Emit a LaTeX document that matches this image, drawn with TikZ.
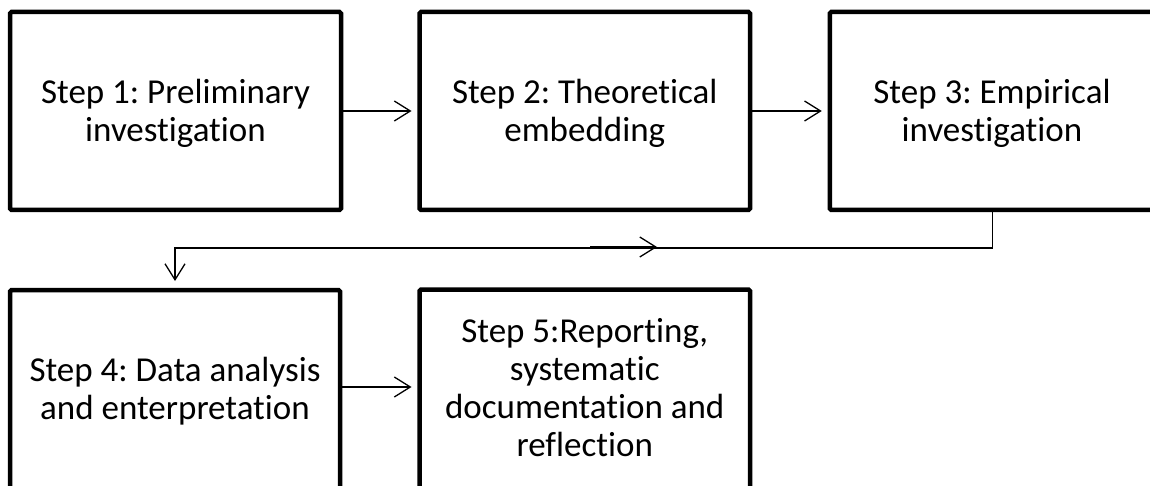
\documentclass[tikz,border=0pt]{standalone}
\usepackage{fontspec}
\setmainfont{Carlito}[Ligatures={NoCommon,NoContextual}]
\usetikzlibrary{arrows.meta}

\tikzset{
  stepbox/.style={draw=black, line width=4.5pt, rounded corners=1.5pt,
    rectangle, inner sep=0pt, outer sep=0pt},
  steptext/.style={align=center, inner sep=0pt,
    font=\fontsize{35}{38}\selectfont\frenchspacing},
  conn/.style={draw=black, line width=1.3pt,
    -{Straight Barb[length=16pt,width=20pt,line width=1.3pt]}},
}

\begin{document}
\begin{tikzpicture}[x=1pt,y=-1pt]
  \useasboundingbox (0,0) rectangle (1150,486);
  \clip (0,0) rectangle (1150,486);

  % step boxes (the lower row and the third box run past the frame)
  \node[stepbox, minimum width=331pt,   minimum height=198pt] (s1) at (175.5,111) {};
  \node[stepbox, minimum width=330.5pt, minimum height=198pt] (s2) at (584.75,111) {};
  \node[stepbox, minimum width=325pt,   minimum height=198pt] (s3) at (992.25,111) {};
  \node[stepbox, minimum width=330pt,   minimum height=230pt] (s4) at (175,405) {};
  \node[stepbox, minimum width=330.5pt, minimum height=230pt] (s5) at (584.75,404.5) {};

  % step labels
  \node[steptext] (t1) at (175.5,113) {Step 1: Preliminary\\investigation};
  \node[steptext] (t2) at (584.75,113) {Step 2: Theoretical\\embedding};
  \node[steptext] (t3) at (992,113) {Step 3: Empirical\\investigation};
  \node[steptext] (t4) at (175,391) {Step 4: Data analysis\\and enterpretation};
  \node[steptext] (t5) at (584.75,388) {Step 5:Reporting,\\systematic\\documentation and\\reflection};

  % connectors
  \draw[conn, shorten >=8pt] (s1.east) -- (s2.west);
  \draw[conn, shorten >=8pt] (s2.east) -- (s3.west);
  \draw[conn, shorten >=9pt] (s3.south) -- ++(0,38) -| (s4.north);
  \draw[conn, shorten >=8pt] (s4.east |- 0,387) -- (s5.west |- 0,387);

  % short arrow laid on the return line
  \coordinate (m1) at (590,247);
  \coordinate (m2) at (657,247);
  \draw[conn] (m1) -- (m2);
\end{tikzpicture}
\end{document}
